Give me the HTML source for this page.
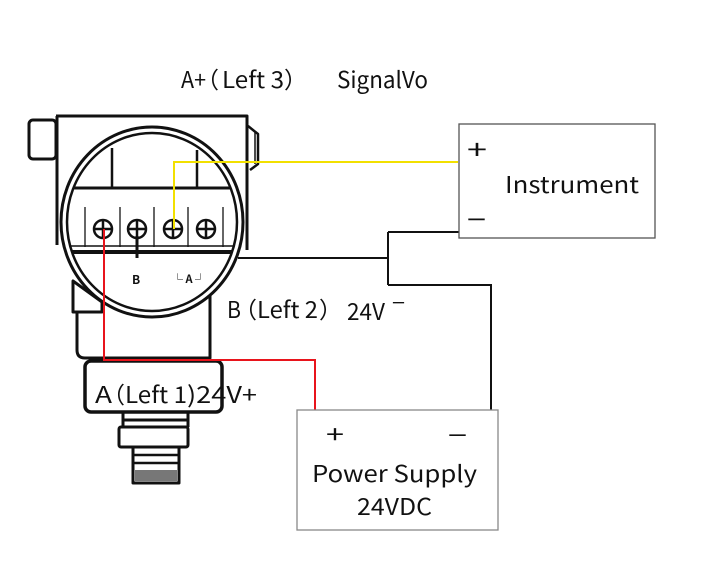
<!DOCTYPE html>
<html><head><meta charset="utf-8"><style>
html,body{margin:0;padding:0;background:#fff;}
svg{display:block;}
text{font-family:"Noto Sans CJK SC","Liberation Sans",sans-serif;fill:#111;}
</style></head><body>
<svg width="715" height="580" viewBox="0 0 715 580" xmlns="http://www.w3.org/2000/svg">
<rect width="715" height="580" fill="#fff"/>
<defs><clipPath id="ic"><ellipse cx="152" cy="222" rx="85" ry="89"/></clipPath></defs>
<g fill="none" stroke="#111" stroke-width="3" stroke-linejoin="round">
  <rect x="29" y="120" width="27" height="39" rx="4"/>
  <path d="M56,116 H247 V250"/>
  <path d="M57,116 V245"/>
  <path d="M248,126 L258,134 V164 L250,170" stroke-width="2.5"/>
  <path d="M255,132 V164" stroke-width="1.5"/>
  <ellipse cx="152" cy="222" rx="91" ry="95" fill="#fff"/>
  <ellipse cx="152" cy="222" rx="85" ry="89" stroke-width="2.5"/>
  <g clip-path="url(#ic)">
    <path d="M112,148 V188 M197,150 V188" stroke-width="2.5"/>
    <path d="M60,188 H245" stroke-width="3"/>
    <path d="M85,207 V247 M120,207 V247 M154,207 V247 M188,207 V247 M223,207 V247" stroke-width="1.5" stroke="#333"/>
    <path d="M60,246 H245" stroke-width="1.5"/>
    <path d="M60,252 H245" stroke-width="4"/>
  </g>
  <g stroke-width="2.5">
    <circle cx="103" cy="229" r="9"/><path d="M94,229 H112 M103,220 V238"/>
    <circle cx="137" cy="229" r="9"/><path d="M128,229 H146 M137,220 V238"/>
    <circle cx="173" cy="229" r="9"/><path d="M164,229 H182 M173,220 V238"/>
    <circle cx="206" cy="229" r="9"/><path d="M197,229 H215 M206,220 V238"/>
  </g>
  <path d="M137,236 V258" stroke-width="3"/>
  <path d="M73,281 V312 H102 V302 Z" stroke-width="3"/>
  <path d="M77,313 V350 Q77,358 85,358 H210 V296" stroke-width="3"/>
  <rect x="85" y="361" width="137" height="51" rx="6" stroke-width="3.5"/>
  <path d="M123,412 V427 M188,412 V427 M123,420 H188" stroke-width="3"/>
  <rect x="119" y="427" width="69" height="20" rx="2" stroke-width="3"/>
  <rect x="133" y="447" width="46" height="36" stroke-width="3"/>
  <path d="M134,455 H178 M134,463 H178" stroke-width="2.5"/>
</g>
<rect x="135" y="470" width="42" height="11" fill="#777"/>
<text x="132" y="284" font-size="12" font-weight="bold" font-family="Liberation Sans, sans-serif">B</text>
<text x="172" y="283" font-size="11" font-weight="bold" font-family="Liberation Sans, sans-serif">└ A ┘</text>

<path d="M104,229 V360 H315 V410" fill="none" stroke="#e8141c" stroke-width="2"/>
<path d="M174,229 V162 H458" fill="none" stroke="#f2e000" stroke-width="2"/>
<path d="M238,258 H388 M388,232 V285 M388,232 H459 M388,285 H491 V410" fill="none" stroke="#111" stroke-width="2"/>

<rect x="459" y="124" width="196" height="114" fill="#fff" stroke="#555" stroke-width="1.3"/>
<rect x="297" y="410" width="201" height="120" fill="#fff" stroke="#888" stroke-width="1.3"/>

<!-- top label -->
<text x="181" y="88" font-size="23" textLength="25" lengthAdjust="spacingAndGlyphs">A+</text>
<text x="196" y="88" font-size="23">（</text>
<text x="222" y="88" font-size="23" textLength="62" lengthAdjust="spacingAndGlyphs">Left 3</text>
<text x="284" y="88" font-size="23">）</text>
<text x="337" y="88" font-size="23" textLength="91" lengthAdjust="spacingAndGlyphs">SignalVo</text>

<!-- B label -->
<text x="227" y="318" font-size="23" textLength="14" lengthAdjust="spacingAndGlyphs">B</text>
<text x="234" y="318" font-size="23">（</text>
<text x="257" y="318" font-size="23" textLength="61" lengthAdjust="spacingAndGlyphs">Left 2</text>
<text x="319" y="318" font-size="23">）</text>
<text x="347" y="320" font-size="23" textLength="38" lengthAdjust="spacingAndGlyphs">24V</text>
<text x="392" y="310" font-size="20" textLength="13" lengthAdjust="spacingAndGlyphs">−</text>

<!-- A label -->
<text x="95" y="403" font-size="23" textLength="17" lengthAdjust="spacingAndGlyphs">A</text>
<text x="102" y="403" font-size="23">（</text>
<text x="125" y="403" font-size="23" textLength="62" lengthAdjust="spacingAndGlyphs">Left 1</text>
<text x="187" y="403" font-size="23" textLength="70" lengthAdjust="spacingAndGlyphs">)24V+</text>

<text x="505" y="193" font-size="23" textLength="134" lengthAdjust="spacingAndGlyphs">Instrument</text>
<text x="467" y="159" font-size="26" textLength="20" lengthAdjust="spacingAndGlyphs">+</text>
<text x="467" y="229" font-size="26" textLength="19" lengthAdjust="spacingAndGlyphs">−</text>
<text x="326" y="443" font-size="24" textLength="18" lengthAdjust="spacingAndGlyphs">+</text>
<text x="448" y="444" font-size="24" textLength="19" lengthAdjust="spacingAndGlyphs">−</text>
<text x="312" y="482" font-size="23" textLength="165" lengthAdjust="spacingAndGlyphs">Power Supply</text>
<text x="357" y="515" font-size="23" textLength="75" lengthAdjust="spacingAndGlyphs">24VDC</text>
</svg>
</body></html>
